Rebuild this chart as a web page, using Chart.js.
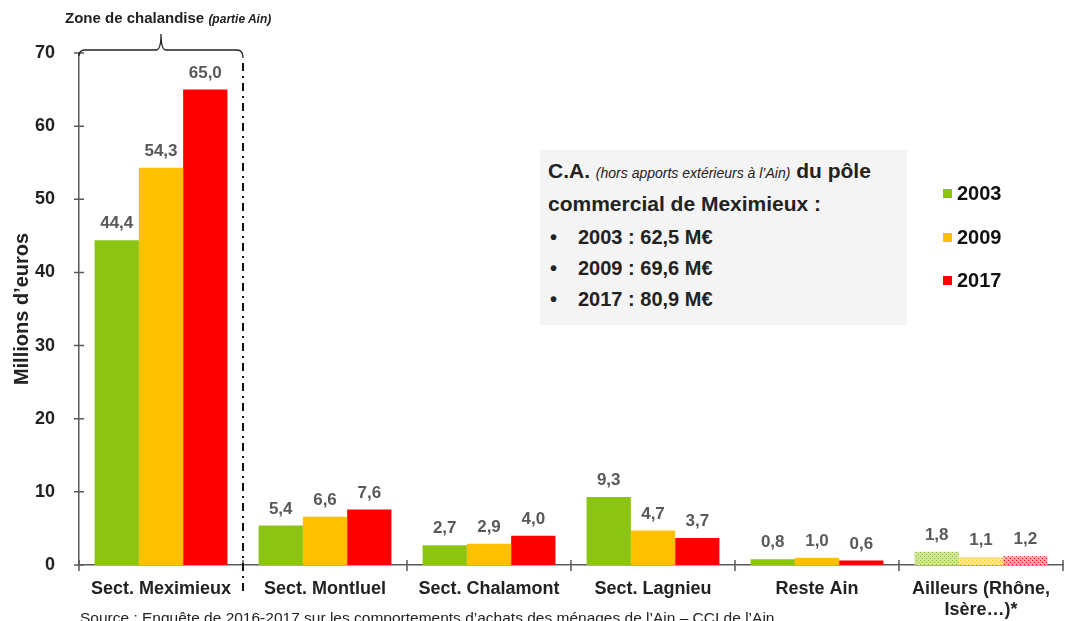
<!DOCTYPE html>
<html>
<head>
<meta charset="utf-8">
<script src="https://cdn.jsdelivr.net/npm/chart.js@4/dist/chart.umd.min.js"></script>
<style>
  body { margin: 0; background: #fff; font-family: "Liberation Sans", Arial, sans-serif; }
  #wrap { position: relative; width: 1071px; height: 621px; overflow: hidden; }
  #chart { position: absolute; left: 0; top: 0; }
  .note { position: absolute; color: #222; font-weight: bold; white-space: nowrap; }
  #zone { left: 65px; top: 9px; font-size: 15px; }
  #zone i { font-size: 12px; }
  #box { position: absolute; left: 540px; top: 150px; width: 367px; height: 175px; background: #f4f4f4; }
  #box .l { position: absolute; left: 8px; font-size: 21px; font-weight: bold; color: #222; white-space: nowrap; }
  #box .l i { font-size: 14px; font-weight: normal; }
  #box .b { position: absolute; left: 10px; font-size: 20px; font-weight: bold; color: #222; white-space: nowrap; }
  #box .b span { position: absolute; left: 28px; }
  #legend { position: absolute; left: 943px; top: 182px; }
  #legend div { position: relative; height: 43.5px; font-size: 20px; font-weight: bold; color: #111; }
  #legend b { display: inline-block; width: 9px; height: 9px; margin-right: 5px; vertical-align: 2px; }
  #source { position: absolute; left: 80px; top: 609px; font-size: 15.5px; color: #222; white-space: nowrap; }
</style>
</head>
<body>
<div id="wrap">
  <canvas id="chart" width="1071" height="621"></canvas>
  <div class="note" id="zone">Zone de chalandise <i>(partie Ain)</i></div>
  <div id="box">
    <div class="l" style="top:9px">C.A. <i>(hors apports extérieurs à l’Ain)</i> du pôle</div>
    <div class="l" style="top:42px">commercial de Meximieux :</div>
    <div class="b" style="top:76px">•<span>2003 : 62,5 M€</span></div>
    <div class="b" style="top:107px">•<span>2009 : 69,6 M€</span></div>
    <div class="b" style="top:138px">•<span>2017 : 80,9 M€</span></div>
  </div>
  <div id="legend"></div>
  <div id="source">Source : Enquête de 2016-2017 sur les comportements d’achats des ménages de l’Ain – CCI de l’Ain</div>
</div>
<script>
var categories = ['Sect. Meximieux', 'Sect. Montluel', 'Sect. Chalamont', 'Sect. Lagnieu', 'Reste Ain', ['Ailleurs (Rhône,', 'Isère…)*']];
var years = ['2003', '2009', '2017'];
var v2003 = [44.4, 5.4, 2.7, 9.3, 0.8, 1.8];
var v2009 = [54.3, 6.6, 2.9, 4.7, 1.0, 1.1];
var v2017 = [65.0, 7.6, 4.0, 3.7, 0.6, 1.2];
var yTicks = [0, 10, 20, 30, 40, 50, 60, 70];

var colors = ['#8cc414', '#ffc000', '#ff0000'];
var lightColors = ['#cfe59a', '#ffe29a', '#ffa8a8'];

// dotted fill for the "Ailleurs" bars
function hatch(base, dot) {
  var c = document.createElement('canvas');
  c.width = 4; c.height = 4;
  var g = c.getContext('2d');
  g.fillStyle = base; g.fillRect(0, 0, 4, 4);
  g.fillStyle = dot; g.fillRect(0, 0, 1, 1); g.fillRect(2, 2, 1, 1);
  return g.createPattern(c, 'repeat');
}

function fills(i) {
  var arr = [];
  for (var k = 0; k < categories.length; k++) {
    arr.push(k == categories.length - 1 ? hatch(lightColors[i], colors[i]) : colors[i]);
  }
  return arr;
}

var legend = document.getElementById('legend');
years.forEach(function (y, i) {
  var d = document.createElement('div');
  d.innerHTML = '<b style="background:' + colors[i] + '"></b>' + y;
  legend.appendChild(d);
});

var extras = {
  id: 'extras',
  afterDatasetsDraw: function (chart) {
    var ctx = chart.ctx;
    var xs = chart.scales.x, ys = chart.scales.y;
    var a = chart.chartArea;
    ctx.save();
    // value labels
    ctx.font = 'bold 17px "Liberation Sans", Arial, sans-serif';
    ctx.fillStyle = '#595959';
    ctx.textAlign = 'center';
    ctx.textBaseline = 'bottom';
    chart.data.datasets.forEach(function (ds, i) {
      chart.getDatasetMeta(i).data.forEach(function (bar, k) {
        ctx.fillText(ds.data[k].toFixed(1).replace('.', ','), bar.x, bar.y - 8);
      });
    });
    // crossing ticks
    ctx.strokeStyle = '#595959';
    ctx.lineWidth = 1.5;
    ctx.beginPath();
    yTicks.forEach(function (t) {
      var py = ys.getPixelForValue(t);
      ctx.moveTo(a.left - 5, py); ctx.lineTo(a.left + 5, py);
    });
    var step = (a.right - a.left) / categories.length;
    for (var k = 0; k <= categories.length; k++) {
      var px = a.left + k * step;
      ctx.moveTo(px, a.bottom - 5); ctx.lineTo(px, a.bottom + 6);
    }
    ctx.stroke();
    // bracket for the catchment area
    var x1 = a.left, x2 = a.left + step, mid = (x1 + x2) / 2, top = a.top - 3;
    ctx.strokeStyle = '#222';
    ctx.lineWidth = 1.3;
    ctx.beginPath();
    ctx.moveTo(x1, top + 6); ctx.quadraticCurveTo(x1, top, x1 + 6, top);
    ctx.lineTo(mid - 5, top); ctx.quadraticCurveTo(mid, top, mid, top - 16);
    ctx.quadraticCurveTo(mid, top, mid + 5, top);
    ctx.lineTo(x2 - 6, top); ctx.quadraticCurveTo(x2, top, x2, top + 8);
    ctx.stroke();
    // dash-dot separator
    ctx.strokeStyle = '#111';
    ctx.lineWidth = 2;
    ctx.setLineDash([8, 5, 2, 5]);
    ctx.beginPath();
    ctx.moveTo(x2, a.top + 10); ctx.lineTo(x2, a.bottom + 30);
    ctx.stroke();
    ctx.restore();
  }
};

new Chart('chart', {
  type: 'bar',
  data: {
    labels: categories,
    datasets: years.map(function (y, i) {
      return { label: y, data: [v2003, v2009, v2017][i], backgroundColor: fills(i),
        categoryPercentage: 0.81, barPercentage: 1.0 };
    })
  },
  options: {
    responsive: false,
    animation: false,
    layout: { padding: { top: 53, right: 8, left: 0, bottom: 0 } },
    plugins: { legend: { display: false }, tooltip: { enabled: false } },
    scales: {
      x: {
        grid: { display: false },
        border: { display: true, color: '#595959', width: 1.5 },
        ticks: { color: '#222', padding: 6, maxRotation: 0, autoSkip: false,
          font: { family: '"Liberation Sans", Arial, sans-serif', size: 18, weight: 'bold', lineHeight: 1.15 } },
        afterFit: function (s) { s.height = 56; }
      },
      y: {
        min: 0, max: 70,
        grid: { display: false },
        border: { display: true, color: '#595959', width: 1.5 },
        afterBuildTicks: function (s) { s.ticks = yTicks.map(function (v) { return { value: v }; }); },
        ticks: { color: '#222', padding: 16,
          font: { family: '"Liberation Sans", Arial, sans-serif', size: 18, weight: 'bold' } },
        title: { display: true, text: 'Millions d’euros', color: '#222', padding: { top: 10, bottom: 0 },
          font: { family: '"Liberation Sans", Arial, sans-serif', size: 20, weight: 'bold' } },
        afterFit: function (s) { s.width = 79; }
      }
    }
  },
  plugins: [extras]
});
</script>
</body>
</html>
